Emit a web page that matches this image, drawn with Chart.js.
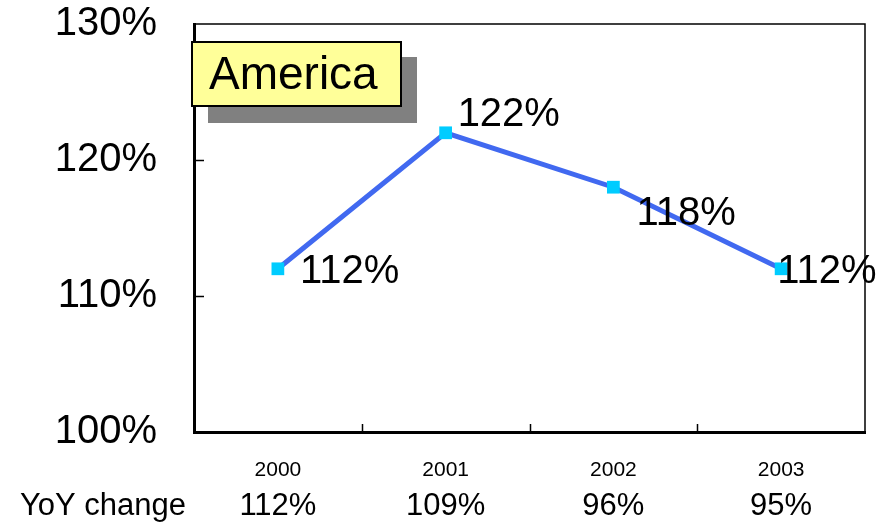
<!DOCTYPE html>
<html>
<head>
<meta charset="utf-8">
<script src="https://cdn.jsdelivr.net/npm/chart.js@4"></script>
<style>
  html, body { margin: 0; padding: 0; background: #fff; }
  #wrap { width: 892px; height: 523px; }
</style>
</head>
<body>
<div id="wrap"><canvas id="chart" width="892" height="523"></canvas></div>
<script>
const years = ["2000", "2001", "2002", "2003"];
const share = [112, 122, 118, 112];
const yoyChange = ["112%", "109%", "96%", "95%"];
const yTicks = [100, 110, 120, 130];
const regionName = "America";

// where each value label sits relative to its point
const labelShift = [[22, 3], [12, -18], [23, 27], [-4, 3]];

const FONT = "'Liberation Sans', Arial, sans-serif";

const decorations = {
  id: "decorations",
  afterDraw(chart) {
    const ctx = chart.ctx;
    const area = chart.chartArea;
    const x = chart.scales.x;
    const y = chart.scales.y;
    ctx.save();

    // top and right frame
    ctx.strokeStyle = "#000";
    ctx.lineWidth = 1.5;
    ctx.beginPath();
    ctx.moveTo(area.left, area.top);
    ctx.lineTo(area.right, area.top);
    ctx.lineTo(area.right, area.bottom);
    ctx.stroke();

    // inward ticks
    ctx.lineWidth = 1.5;
    ctx.beginPath();
    const step = (area.right - area.left) / years.length;
    for (let i = 1; i < years.length; i++) {
      const px = Math.round(area.left + i * step) + 0.5;
      ctx.moveTo(px, area.bottom);
      ctx.lineTo(px, area.bottom - 8);
    }
    yTicks.slice(1, -1).forEach(v => {
      const py = Math.round(y.getPixelForValue(v)) + 0.5;
      ctx.moveTo(area.left, py);
      ctx.lineTo(area.left + 10, py);
    });
    ctx.stroke();

    // title box with shadow
    const bx = area.left - 2, by = 42, bw = 209, bh = 64;
    ctx.fillStyle = "#808080";
    ctx.fillRect(bx + 16, by + 15, bw, bh + 2);
    ctx.fillStyle = "#FFFF99";
    ctx.fillRect(bx, by, bw, bh);
    ctx.lineWidth = 2;
    ctx.strokeRect(bx, by, bw, bh);
    ctx.fillStyle = "#000";
    ctx.font = "46px " + FONT;
    ctx.textAlign = "left";
    ctx.textBaseline = "middle";
    ctx.fillText(regionName, bx + 17, by + bh / 2 + 2);

    // value labels
    ctx.font = "40px " + FONT;
    const meta = chart.getDatasetMeta(0);
    meta.data.forEach((pt, i) => {
      ctx.fillText(share[i] + "%", pt.x + labelShift[i][0], pt.y + labelShift[i][1]);
    });

    // YoY row
    ctx.font = "31px " + FONT;
    ctx.textBaseline = "alphabetic";
    ctx.textAlign = "left";
    ctx.fillText("YoY change", 20, 515);
    ctx.textAlign = "center";
    yoyChange.forEach((t, i) => {
      ctx.fillText(t, x.getPixelForValue(i), 515);
    });
    ctx.restore();
  }
};

new Chart(document.getElementById("chart"), {
  type: "line",
  data: {
    labels: years,
    datasets: [{
      data: share,
      borderColor: "#4169F0",
      borderWidth: 5,
      pointStyle: "rect",
      pointRadius: 9,
      pointBackgroundColor: "#00CCFF",
      pointBorderColor: "#00CCFF",
      pointBorderWidth: 0,
      tension: 0
    }]
  },
  options: {
    responsive: false,
    animation: false,
    layout: { padding: { top: 24, right: 27, left: 0, bottom: 0 } },
    plugins: { legend: { display: false }, tooltip: { enabled: false } },
    scales: {
      x: {
        offset: true,
        grid: { display: false, drawTicks: false },
        border: { display: true, color: "#000", width: 3 },
        ticks: { color: "#000", font: { size: 21, family: FONT }, padding: 26 },
        afterFit(s) { s.height = 91; s.paddingLeft = 0; s.paddingRight = 0; }
      },
      y: {
        min: 100,
        max: 130,
        grid: { display: false, drawTicks: false },
        border: { display: true, color: "#000", width: 3 },
        ticks: {
          stepSize: 10,
          color: "#000",
          font: { size: 40, family: FONT },
          padding: 37,
          callback: v => v + "%"
        },
        afterFit(s) { s.width = 194; s.paddingTop = 0; s.paddingBottom = 0; }
      }
    }
  },
  plugins: [decorations]
});
</script>
</body>
</html>
